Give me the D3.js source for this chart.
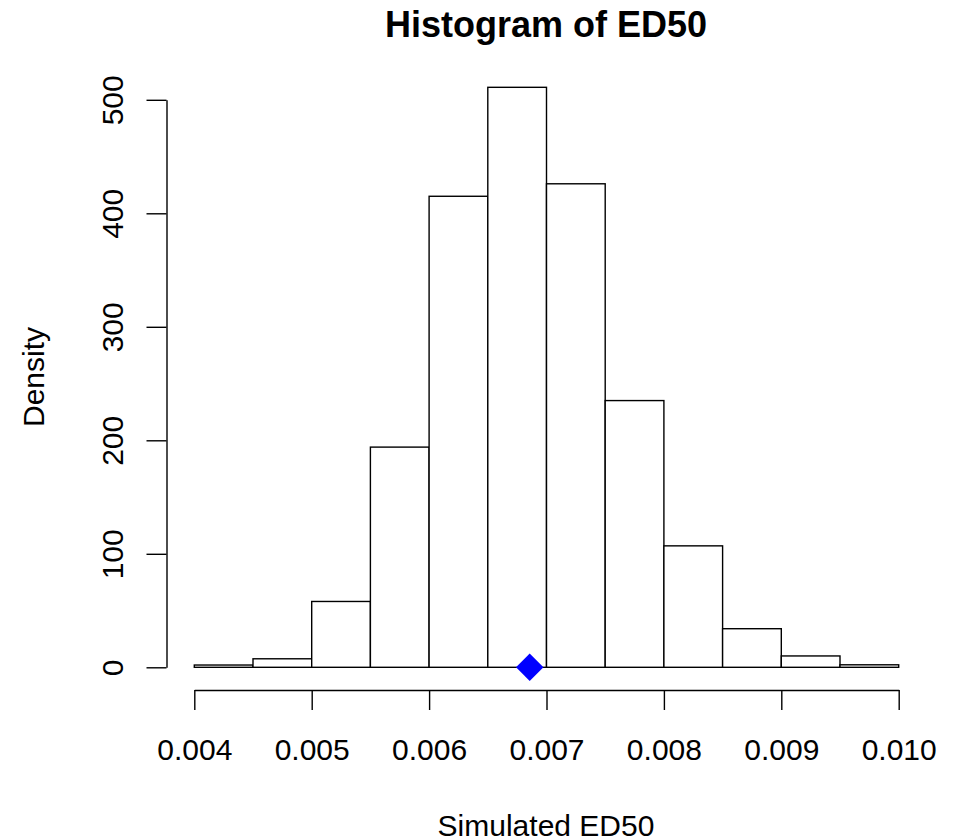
<!DOCTYPE html>
<html>
<head>
<meta charset="utf-8">
<script src="https://cdn.jsdelivr.net/npm/d3@7"></script>
<style>
    body { margin: 0; background: #fff; }
    svg text { font-family: "Liberation Sans", Arial, Helvetica, sans-serif; fill: #000; }
</style>
</head>
<body>
<div id="chart"></div>
<script>
// histogram of simulated ED50, bin edges and densities
var binEdges = [0.0040, 0.0045, 0.0050, 0.0055, 0.0060, 0.0065, 0.0070,
                0.0075, 0.0080, 0.0085, 0.0090, 0.0095, 0.0100];
var densities = [2, 7.5, 58, 194, 415, 511, 426, 235, 107, 34, 10, 2.2];
var xTicks = [0.004, 0.005, 0.006, 0.007, 0.008, 0.009, 0.010];
var yTicks = [0, 100, 200, 300, 400, 500];
var pointEstimate = 0.006857; // blue diamond on the baseline

var width = 956, height = 840;

var svg = d3.select("#chart")
    .append("svg")
    .attr("width", width)
    .attr("height", height);

// scales fixed to where R put the ticks
var x = d3.scaleLinear()
    .domain([0.004, 0.010])
    .range([194.3, 898.7]);

var y = d3.scaleLinear()
    .domain([0, 500])
    .range([667.3, 99.8]);

var lineW = 1.4;

// bars
var bars = binEdges.slice(0, -1).map(function (lo, i) {
    return {lo: lo, hi: binEdges[i + 1], d: densities[i]};
});

svg.append("g")
    .selectAll("rect")
    .data(bars)
    .enter().append("rect")
    .attr("x", function (d) { return x(d.lo); })
    .attr("y", function (d) { return y(d.d); })
    .attr("width", function (d) { return x(d.hi) - x(d.lo); })
    .attr("height", function (d) { return y(0) - y(d.d); })
    .style("fill", "#fff")
    .style("stroke", "#000")
    .style("stroke-width", lineW);

// estimate marker
var r = 13.7;
svg.append("path")
    .attr("d", "M0," + (-r) + "L" + r + ",0L0," + r + "L" + (-r) + ",0Z")
    .attr("transform", "translate(" + x(pointEstimate) + "," + y(0) + ")")
    .style("fill", "#0000ff");

// x axis
var xAxis = svg.append("g")
    .attr("transform", "translate(0,690)")
    .call(d3.axisBottom(x)
        .tickValues(xTicks)
        .tickFormat(d3.format(".3f"))
        .tickSize(20)
        .tickSizeOuter(0)
        .tickPadding(28.5));

// y axis
var yAxis = svg.append("g")
    .attr("transform", "translate(166.5,0)")
    .call(d3.axisLeft(y)
        .tickValues(yTicks)
        .tickFormat(d3.format("d"))
        .tickSize(20)
        .tickSizeOuter(0));

[xAxis, yAxis].forEach(function (ax) {
    ax.select(".domain").style("stroke", "#000").style("stroke-width", lineW);
    ax.selectAll(".tick line").style("stroke", "#000").style("stroke-width", lineW);
    ax.selectAll(".tick text")
        .style("font-size", "30px")
        .style("fill", "#000");
});

// R writes the y labels parallel to the axis
yAxis.selectAll(".tick text")
    .attr("transform", "rotate(-90)")
    .attr("x", 0)
    .attr("y", -44)
    .attr("dy", 0)
    .style("text-anchor", "middle");

// title and axis titles
svg.append("text")
    .attr("x", 546)
    .attr("y", 37)
    .style("text-anchor", "middle")
    .style("font-size", "36px")
    .style("font-weight", "bold")
    .text("Histogram of ED50");

svg.append("text")
    .attr("x", 546)
    .attr("y", 835.5)
    .style("text-anchor", "middle")
    .style("font-size", "30px")
    .text("Simulated ED50");

svg.append("text")
    .attr("transform", "translate(43.5,377) rotate(-90)")
    .style("text-anchor", "middle")
    .style("font-size", "30px")
    .text("Density");
</script>
</body>
</html>
